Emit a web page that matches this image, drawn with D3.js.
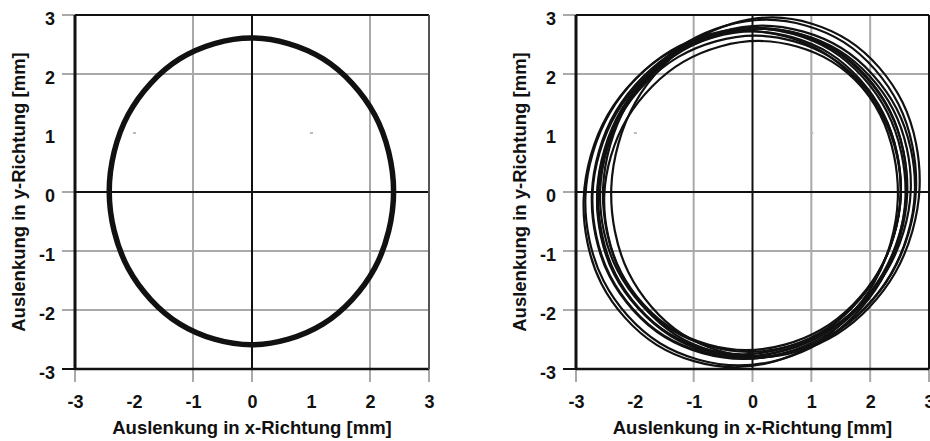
<!DOCTYPE html>
<html><head><meta charset="utf-8">
<script src="https://cdn.jsdelivr.net/npm/d3@7"></script>
<style>
html,body{margin:0;padding:0;background:#fff;}
svg{display:block;}
text{font-family:"Liberation Sans",Arial,sans-serif;font-weight:bold;fill:#111;}
</style></head><body>
<svg id="chart" width="930" height="441"></svg>
<script>
// ---------- data ----------
const tickValues = [-3, -2, -1, 0, 1, 2, 3];
const tickLabels = ["-3", "-2", "-1", "0", "1", "2", "3"];
const xTitle = "Auslenkung in x-Richtung [mm]";
const yTitle = "Auslenkung in y-Richtung [mm]";

// visible grid lines (others are missing in the original)
const leftGridX = [-1, 2];
const rightGridX = [-1, 1, 2];
const gridY = [2, -1, -2];
const leftTickX = [-3, -1, 0, 2, 3];
const rightTickX = [-3, -1, 0, 1, 2, 3];
const tickY = [3, 2, 0, -1, -2, -3];
const faintDots = [[-2, 1], [1, 1]];

// left panel: one orbit (x, y in mm), read around the loop
const leftOrbitX = [2.40, 2.08, 1.20, -0.01, -1.22, -2.10, -2.42, -2.10, -1.22, -0.01, 1.20, 2.08];
const leftOrbitY = [0.01, 1.31, 2.26, 2.61, 2.26, 1.31, 0.01, -1.29, -2.24, -2.59, -2.24, -1.29];

// right panel: several revolutions (x, y in mm)
const rightLoop1 = [[2.62,0],[2.33,1.39],[1.41,2.41],[0.11,2.78],[-1.21,2.41],[-2.21,1.39],[-2.62,0],[-2.33,-1.39],[-1.41,-2.41],[-0.11,-2.78],[1.21,-2.41],[2.21,-1.39]];
const rightLoop2 = [[2.63,-0.03],[2.33,1.37],[1.39,2.40],[0.06,2.77],[-1.29,2.40],[-2.32,1.37],[-2.73,-0.03],[-2.43,-1.43],[-1.49,-2.46],[-0.16,-2.83],[1.19,-2.46],[2.22,-1.43]];
const rightLoop3 = [[2.69,0.03],[2.39,1.40],[1.47,2.40],[0.16,2.77],[-1.18,2.40],[-2.18,1.40],[-2.59,0.03],[-2.29,-1.34],[-1.37,-2.34],[-0.06,-2.71],[1.28,-2.34],[2.28,-1.34]];
const rightLoop4 = [[2.52,-0.05],[2.23,1.30],[1.32,2.29],[0.05,2.65],[-1.26,2.29],[-2.24,1.30],[-2.64,-0.05],[-2.35,-1.40],[-1.44,-2.39],[-0.17,-2.75],[1.14,-2.39],[2.12,-1.40]];
const rightLoop5 = [[2.78,0.06],[2.48,1.49],[1.55,2.54],[0.23,2.92],[-1.11,2.54],[-2.13,1.49],[-2.54,0.06],[-2.24,-1.37],[-1.31,-2.42],[0.01,-2.80],[1.35,-2.42],[2.37,-1.37]];
const rightLoop6 = [[2.47,-0.12],[2.17,1.31],[1.23,2.35],[-0.09,2.73],[-1.44,2.35],[-2.46,1.31],[-2.87,-0.12],[-2.57,-1.55],[-1.63,-2.59],[-0.31,-2.97],[1.04,-2.59],[2.06,-1.55]];
const rightLoop7 = [[2.84,0.08],[2.55,1.52],[1.63,2.57],[0.34,2.96],[-0.99,2.57],[-1.99,1.52],[-2.40,0.08],[-2.11,-1.36],[-1.19,-2.41],[0.11,-2.80],[1.43,-2.41],[2.43,-1.36]];
const rightLoop8 = [[2.52,-0.06],[2.23,1.25],[1.35,2.21],[0.11,2.56],[-1.17,2.21],[-2.13,1.25],[-2.52,-0.06],[-2.23,-1.37],[-1.35,-2.33],[-0.11,-2.68],[1.17,-2.33],[2.13,-1.37]];
const rightLoop9 = [[2.60,-0.08],[2.29,1.35],[1.34,2.40],[-0.01,2.78],[-1.38,2.40],[-2.42,1.35],[-2.84,-0.08],[-2.53,-1.51],[-1.58,-2.56],[-0.23,-2.94],[1.14,-2.56],[2.18,-1.51]];
const rightLoop10 = [[2.52,-0.04],[2.22,1.34],[1.31,2.35],[0.01,2.72],[-1.31,2.35],[-2.31,1.34],[-2.72,-0.04],[-2.42,-1.42],[-1.51,-2.43],[-0.21,-2.80],[1.11,-2.43],[2.11,-1.42]];
const rightLoop11 = [[2.76,0],[2.45,1.41],[1.51,2.44],[0.17,2.82],[-1.19,2.44],[-2.22,1.41],[-2.64,0],[-2.33,-1.41],[-1.39,-2.44],[-0.05,-2.82],[1.31,-2.44],[2.34,-1.41]];
const rightLoops = [rightLoop1, rightLoop2, rightLoop3, rightLoop4, rightLoop5, rightLoop6, rightLoop7, rightLoop8, rightLoop9, rightLoop10, rightLoop11];

// ---------- drawing ----------
const svg = d3.select("#chart");
const GRID = "#a9a9a9", BLACK = "#111";

function drawPanel(opt) {
  const x = d3.scaleLinear().domain([-3, 3]).range([opt.x0, opt.x1]);
  const y = d3.scaleLinear().domain([-3, 3]).range([369, 15]);
  const g = svg.append("g");
  const tickLen = 13;

  // tick extensions outside the frame (gray)
  opt.tickX.forEach(v => g.append("line")
    .attr("x1", x(v)).attr("x2", x(v)).attr("y1", y(-3)).attr("y2", y(-3) + tickLen)
    .attr("stroke", GRID).attr("stroke-width", 2));
  tickY.forEach(v => g.append("line")
    .attr("x1", x(-3) - tickLen).attr("x2", x(-3)).attr("y1", y(v)).attr("y2", y(v))
    .attr("stroke", v === -3 ? BLACK : GRID).attr("stroke-width", 2));

  // grid lines
  opt.gridX.forEach(v => g.append("line")
    .attr("x1", x(v)).attr("x2", x(v)).attr("y1", y(3)).attr("y2", y(-3))
    .attr("stroke", GRID).attr("stroke-width", 2));
  gridY.forEach(v => g.append("line")
    .attr("x1", x(-3)).attr("x2", x(3)).attr("y1", y(v)).attr("y2", y(v))
    .attr("stroke", GRID).attr("stroke-width", 2));
  faintDots.forEach(d => g.append("rect")
    .attr("x", x(d[0]) - 1).attr("y", y(d[1]) - 1).attr("width", 3).attr("height", 2)
    .attr("fill", "#bbb"));

  // zero lines
  g.append("line").attr("x1", x(0)).attr("x2", x(0)).attr("y1", y(3)).attr("y2", y(-3))
    .attr("stroke", BLACK).attr("stroke-width", 2);
  g.append("line").attr("x1", x(-3)).attr("x2", x(3)).attr("y1", y(0)).attr("y2", y(0))
    .attr("stroke", BLACK).attr("stroke-width", 2);

  // orbits
  const line = d3.line().x(d => x(d[0])).y(d => y(d[1])).curve(d3.curveCatmullRomClosed.alpha(0.5));
  opt.loops.forEach(L => g.append("path").attr("d", line(L))
    .attr("fill", "none").attr("stroke", BLACK).attr("stroke-width", opt.lineWidth));

  // frame
  g.append("line").attr("x1", x(-3)).attr("x2", x(3)).attr("y1", y(3)).attr("y2", y(3))
    .attr("stroke", BLACK).attr("stroke-width", 2);
  g.append("line").attr("x1", x(-3)).attr("x2", x(3)).attr("y1", y(-3)).attr("y2", y(-3))
    .attr("stroke", BLACK).attr("stroke-width", 2.5);
  g.append("line").attr("x1", x(-3)).attr("x2", x(-3)).attr("y1", y(3)).attr("y2", y(-3))
    .attr("stroke", BLACK).attr("stroke-width", 3);
  g.append("line").attr("x1", x(3)).attr("x2", x(3)).attr("y1", y(3)).attr("y2", y(-3))
    .attr("stroke", opt.rightBorder).attr("stroke-width", 2);

  // tick labels via axes
  const ax = d3.axisBottom(x).tickValues(tickValues).tickSize(0).tickPadding(0)
    .tickFormat((d, i) => tickLabels[i]);
  const gx = g.append("g").attr("transform", "translate(0,408)").call(ax);
  gx.select(".domain").remove();
  gx.selectAll("text").attr("dy", 0).attr("y", 0).style("font-size", "18px")
    .style("font-family", '"Liberation Sans",Arial,sans-serif').style("font-weight", "bold").attr("fill", BLACK);

  const ay = d3.axisLeft(y).tickValues(tickValues).tickSize(0).tickPadding(0)
    .tickFormat((d, i) => tickLabels[i]);
  const gy = g.append("g").attr("transform", `translate(${x(-3) - 20},0)`).call(ay);
  gy.select(".domain").remove();
  gy.selectAll("text").attr("dy", "0.5em").attr("dx", 0).style("font-size", "18px")
    .style("font-family", '"Liberation Sans",Arial,sans-serif').style("font-weight", "bold").attr("fill", BLACK);

  // titles
  g.append("text").attr("x", x(0)).attr("y", 434).attr("text-anchor", "middle")
    .style("font-size", "18.5px").text(xTitle);
  g.append("text").attr("transform", `translate(${x(-3) - 50},${y(0)}) rotate(-90)`)
    .attr("text-anchor", "middle").style("font-size", "18.5px").text(yTitle);
}

drawPanel({x0: 75, x1: 429, gridX: leftGridX, tickX: leftTickX,
  loops: [leftOrbitX.map((v, i) => [v, leftOrbitY[i]])], lineWidth: 5.5, rightBorder: "#555"});
drawPanel({x0: 576, x1: 929, gridX: rightGridX, tickX: rightTickX,
  loops: rightLoops, lineWidth: 2.2, rightBorder: BLACK});
</script>
</body></html>
